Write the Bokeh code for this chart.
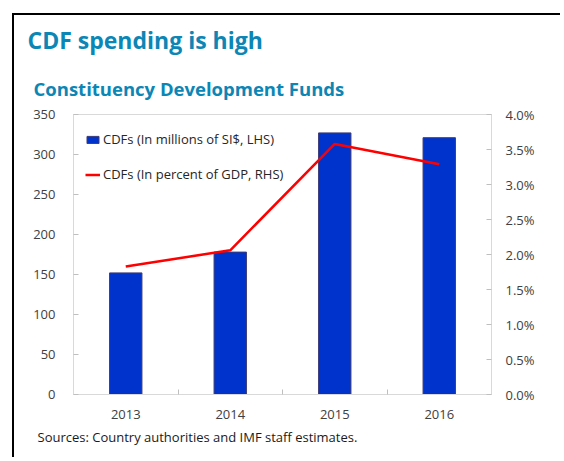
from bokeh.plotting import figure
from bokeh.models import (Range1d, LinearAxis, FixedTicker, PrintfTickFormatter,
                          Title, Legend, LegendItem)
from bokeh.embed import file_html
from bokeh.resources import INLINE

# ---- data ----
years = [2013, 2014, 2015, 2016]
cdf_millions = [152, 178, 327, 321]          # LHS, millions of SI$
cdf_pct_gdp = [1.83, 2.06, 3.58, 3.29]       # RHS, percent of GDP
left_ticks = [0, 50, 100, 150, 200, 250, 300, 350]
right_ticks = [0.0, 0.5, 1.0, 1.5, 2.0, 2.5, 3.0, 3.5, 4.0]
year_boundaries = [2013.5, 2014.5, 2015.5]

title_text = "CDF spending is high"
subtitle_text = "Constituency Development Funds"
source_text = "Sources: Country authorities and IMF staff estimates."
bar_label = "CDFs (In millions of SI$, LHS)"
line_label = "CDFs (In percent of GDP, RHS)"

FONT = "Open Sans"
BLUE_TITLE = "#0b86b5"
AXIS_GRAY = "#d9d9d9"
TICK_GRAY = "#bfbfbf"
TICK_TEXT = "#404040"

p = figure(width=548, height=444, output_backend="svg", toolbar_location=None,
           x_range=Range1d(2012.5, 2016.5), y_range=Range1d(0, 350),
           min_border_left=59, min_border_right=71, min_border_top=99,
           min_border_bottom=65)
p.styles = {"margin-left": "12px", "margin-top": "13px",
            "border-left": "2px solid black", "border-top": "2px solid black"}
p.outline_line_color = AXIS_GRAY
p.xgrid.grid_line_color = None
p.ygrid.grid_line_color = None
p.background_fill_color = "white"
p.border_fill_color = "white"

# bottom axis
xa = p.xaxis[0]
xa.ticker = FixedTicker(ticks=years, minor_ticks=year_boundaries)
xa.major_tick_in = 0
xa.major_tick_out = 0
xa.minor_tick_in = 5
xa.minor_tick_out = 0
xa.minor_tick_line_color = TICK_GRAY
xa.axis_line_color = AXIS_GRAY
xa.major_label_standoff = 15
xa.major_label_text_font = FONT
xa.major_label_text_font_size = "13px"
xa.major_label_text_color = TICK_TEXT

# left axis
ya = p.yaxis[0]
ya.ticker = FixedTicker(ticks=left_ticks)
ya.major_tick_in = 5
ya.major_tick_out = 0
ya.major_tick_line_color = TICK_GRAY
ya.minor_tick_line_color = None
ya.axis_line_color = AXIS_GRAY
ya.major_label_standoff = 18
ya.major_label_text_font = FONT
ya.major_label_text_font_size = "13px"
ya.major_label_text_color = TICK_TEXT

# right axis
p.extra_y_ranges = {"pct": Range1d(0, 4.0)}
ra = LinearAxis(y_range_name="pct", ticker=FixedTicker(ticks=right_ticks),
                formatter=PrintfTickFormatter(format="%.1f%%"))
ra.major_tick_in = 5
ra.major_tick_out = 0
ra.major_tick_line_color = TICK_GRAY
ra.minor_tick_line_color = None
ra.axis_line_color = AXIS_GRAY
ra.major_label_standoff = 14
ra.major_label_text_font = FONT
ra.major_label_text_font_size = "13px"
ra.major_label_text_color = TICK_TEXT
p.add_layout(ra, "right")

# marks
r_bar = p.vbar(x=years, top=cdf_millions, width=0.31, bottom=0,
               fill_color="#0033cc", line_color="#3c3c78", line_width=1)
r_line = p.line(x=years, y=cdf_pct_gdp, y_range_name="pct",
                line_color="#ff0000", line_width=2.5)

legend = Legend(items=[LegendItem(label=bar_label, renderers=[r_bar]),
                       LegendItem(label=line_label, renderers=[r_line])],
                location="top_left", margin=12, padding=0, spacing=9,
                glyph_width=15, glyph_height=9, label_height=26,
                label_standoff=3, label_text_font=FONT,
                label_text_font_size="13px", label_text_color="#262626",
                background_fill_alpha=0, border_line_color=None)
p.add_layout(legend)

# titles and source note
p.add_layout(Title(text=subtitle_text, align="left", offset=-40, standoff=28,
                   text_font=FONT, text_font_size="18.5px",
                   text_font_style="bold", text_color=BLUE_TITLE), "above")
p.add_layout(Title(text=title_text, align="left", offset=-46, standoff=8,
                   text_font=FONT, text_font_size="23px",
                   text_font_style="bold", text_color=BLUE_TITLE), "above")
p.add_layout(Title(text=source_text, align="left", offset=-36, standoff=9,
                   text_font=FONT, text_font_size="13px",
                   text_font_style="normal", text_color="#1a1a1a"), "below")

open("out.html", "w").write(file_html(p, INLINE))
